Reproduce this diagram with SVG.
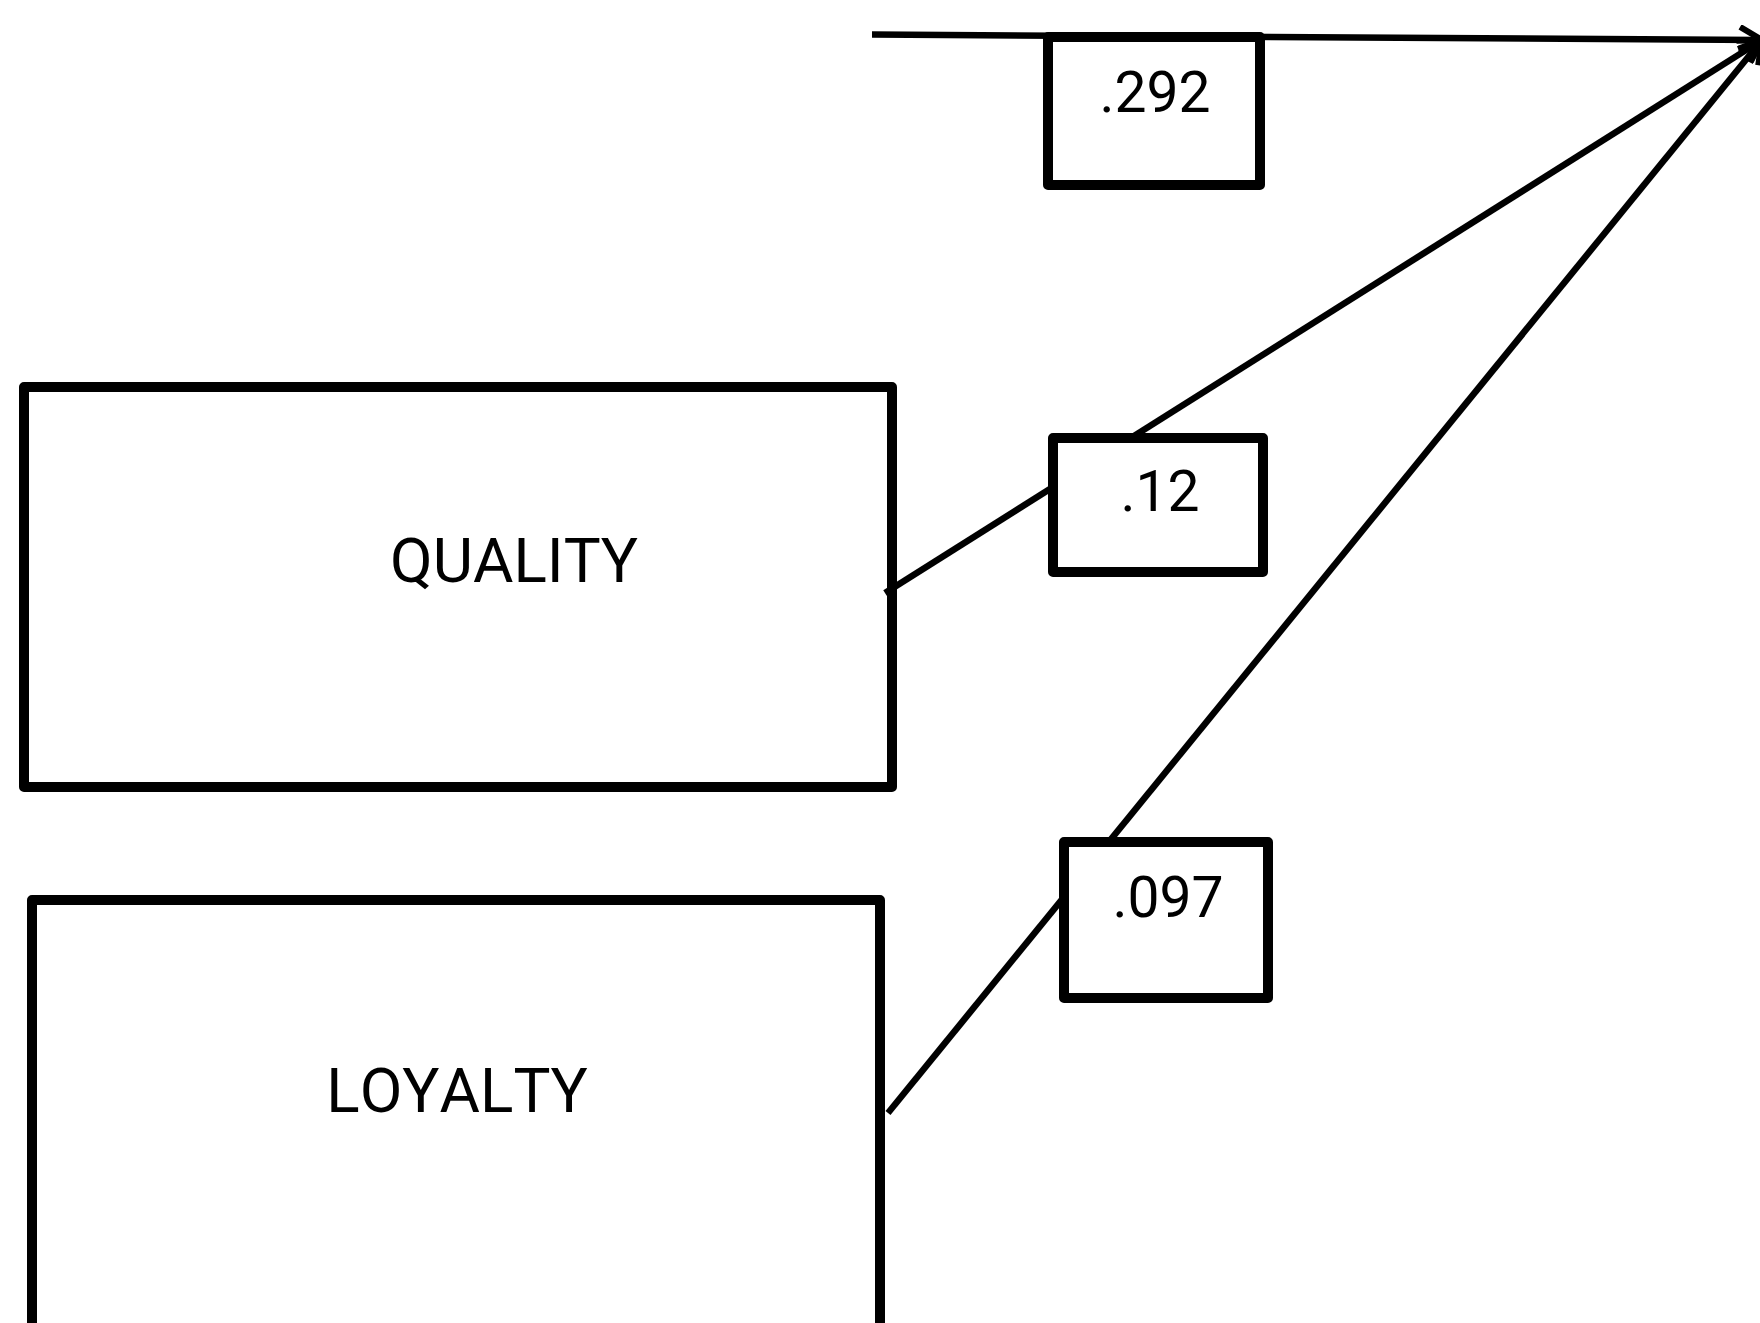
<svg xmlns="http://www.w3.org/2000/svg" width="1760" height="1323" viewBox="0 0 1760 1323">
<style>
.node{fill:#fff;stroke:#000;stroke-width:10;stroke-linejoin:round}
.lbl{fill:#fff;stroke:#000;stroke-width:10;stroke-linejoin:round}
.edge{fill:none;stroke:#000;stroke-width:6.5}
.t{font-family:Roboto,"Liberation Sans",sans-serif;font-size:62px;fill:#000;text-anchor:middle;font-kerning:none}
.n{font-size:57px}
</style>
<defs>
<marker id="arr" markerUnits="userSpaceOnUse" viewBox="0 0 30 30" markerWidth="30" markerHeight="30" refX="26" refY="15" orient="auto">
<path d="M4,2 L26,15 L4,28" fill="none" stroke="#000" stroke-width="6"/>
</marker>
</defs>
<rect width="1760" height="1323" fill="#fff"/>
<g id="quality">
<rect class="node" x="24" y="387" width="868" height="400"/>
<text class="t" x="514" y="582">QUALITY</text>
</g>
<g id="loyalty">
<rect class="node" x="32" y="900" width="848" height="460"/>
<text class="t" x="457" y="1112">LOYALTY</text>
</g>
<g id="connectors">
<line class="edge" x1="872" y1="34.5" x2="1762" y2="40" marker-end="url(#arr)"/>
<line class="edge" x1="885" y1="593" x2="1762" y2="40" marker-end="url(#arr)"/>
<line class="edge" x1="888" y1="1113" x2="1762" y2="40" marker-end="url(#arr)"/>
</g>
<g id="label-292">
<rect class="lbl" x="1048" y="37" width="212" height="148"/>
<text class="t n" x="1155" y="112">.292</text>
</g>
<g id="label-12">
<rect class="lbl" x="1053" y="438" width="210" height="134"/>
<text class="t n" x="1160" y="511">.12</text>
</g>
<g id="label-097">
<rect class="lbl" x="1064" y="842" width="204" height="156"/>
<text class="t n" x="1168" y="917">.097</text>
</g>
</svg>
